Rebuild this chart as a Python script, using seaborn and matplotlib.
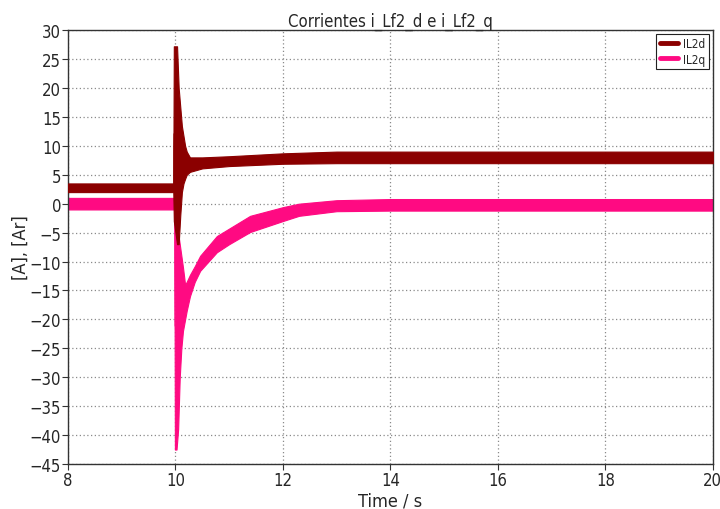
import numpy as np
import pandas as pd
import matplotlib
matplotlib.use("Agg")
import matplotlib.pyplot as plt
import seaborn as sns
from matplotlib.lines import Line2D

# ---- data (envelopes of the noisy bands) ----
d_time = [8.0, 9.96, 9.97, 10.03, 10.06, 10.09, 10.12, 10.15, 10.18, 10.21, 10.27, 10.50,
          11.0, 12.0, 13.0, 14.0, 20.0]
d_high = [3.5, 3.5, 27.2, 27.2, 20.0, 16.7, 13.4, 11.7, 10.0, 9.0, 8.0, 8.0,
          8.2, 8.7, 9.0, 9.0, 9.0]
d_low = [2.0, 2.0, -3.0, -7.0, -7.0, -2.0, 2.0, 3.5, 4.3, 5.0, 5.5, 6.1,
         6.5, 6.9, 7.0, 7.0, 7.0]

q_time = [8.0, 9.98, 9.99, 10.02, 10.05, 10.08, 10.11, 10.14, 10.18, 10.21, 10.27, 10.36,
          10.46, 10.77, 11.0, 11.39, 12.0, 12.3, 13.0, 14.0, 20.0]
q_high = [1.0, 1.0, 0.5, -3.0, -5.0, -7.0, -9.0, -11.0, -14.0, -13.5, -12.3, -10.8,
          -9.0, -5.6, -4.3, -2.1, -0.6, 0.0, 0.6, 0.8, 0.8]
q_low = [-1.0, -1.0, -42.5, -42.5, -39.0, -30.0, -25.0, -22.0, -20.0, -18.5, -16.0, -13.5,
         -11.6, -8.4, -7.0, -4.9, -3.0, -2.1, -1.3, -1.2, -1.2]

series_names = ["IL2d", "IL2q"]
series_colors = ["#8b0000", "#ff0a82"]
x_ticks = [8, 10, 12, 14, 16, 18, 20]
y_ticks = list(range(-45, 31, 5))

sns.set_theme(style="white")
plt.rcParams['font.family'] = ['DejaVu Sans']
plt.rcParams['font.stretch'] = 'condensed'

fig = plt.figure(figsize=(7.2, 5.1), dpi=100)
ax = fig.add_axes([0.0944, 0.0882, 0.8956, 0.8508])

df = pd.concat([
    pd.DataFrame({"t": d_time, "v": (np.array(d_high) + np.array(d_low)) / 2, "s": series_names[0]}),
    pd.DataFrame({"t": q_time, "v": (np.array(q_high) + np.array(q_low)) / 2, "s": series_names[1]}),
])

ax.fill_between(d_time, d_low, d_high, color=series_colors[0], lw=0.8, edgecolor=series_colors[0], zorder=3)
ax.fill_between(q_time, q_low, q_high, color=series_colors[1], lw=0.8, edgecolor=series_colors[1], zorder=2)
sns.lineplot(data=df, x="t", y="v", hue="s", palette=series_colors, ax=ax, legend=False,
             linewidth=0.5, zorder=1)

ax.set_xlim(8, 20)
ax.set_ylim(-45, 30)
ax.set_xticks(x_ticks)
ax.set_yticks(y_ticks)
ax.grid(True, color="#8a8a8a", linestyle=(0, (1, 2)), linewidth=0.9)
ax.set_axisbelow(True)
for sp in ax.spines.values():
    sp.set_color("#333333")
    sp.set_linewidth(1.0)
ax.tick_params(axis="both", which="both", direction="out", length=4, width=0.8,
               color="#333333", labelsize=12, left=True, bottom=True, pad=1)

ax.set_title("Corrientes i_Lf2_d e i_Lf2_q", fontsize=12, pad=2)
ax.set_xlabel("Time / s", fontsize=13, labelpad=2)
ax.set_ylabel("[A], [Ar]", fontsize=13, labelpad=0)

handles = [Line2D([0], [0], color=c, lw=3.5) for c in series_colors]
leg = ax.legend(handles, series_names, loc="upper right", fontsize=8.5, fancybox=False,
                framealpha=1, edgecolor="#222222", handlelength=1.5, handletextpad=0.5,
                borderpad=0.3, labelspacing=0.2, borderaxespad=0.3)
leg.get_frame().set_linewidth(0.8)

fig.savefig("out.png", dpi=100)
